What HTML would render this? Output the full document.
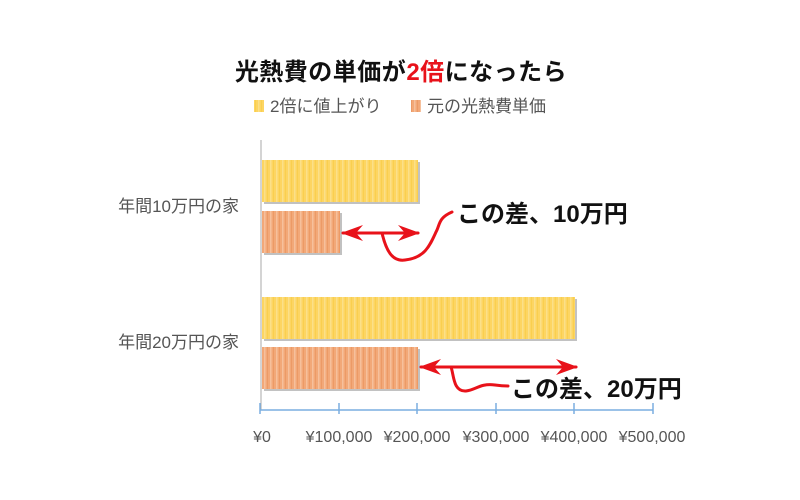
<!DOCTYPE html>
<html><head><meta charset="utf-8"><style>
html,body{margin:0;padding:0;background:#fff;}
svg{display:block;font-family:"Liberation Sans","Noto Sans CJK JP",sans-serif;}
</style></head><body>
<svg width="800" height="500" viewBox="0 0 800 500" xmlns="http://www.w3.org/2000/svg">
<defs>
<pattern id="py" width="6" height="10" patternUnits="userSpaceOnUse">
<rect width="6" height="10" fill="#fdd562"/><rect x="0" width="1.5" height="10" fill="#fbe089"/><rect x="3" width="1" height="10" fill="#f9cf4f"/>
</pattern>
<pattern id="po" width="6" height="10" patternUnits="userSpaceOnUse">
<rect width="6" height="10" fill="#f2a878"/><rect x="0" width="1.5" height="10" fill="#f6c09c"/><rect x="3" width="1" height="10" fill="#ec9a66"/>
</pattern>
<marker id="ah" markerWidth="22" markerHeight="16" refX="20" refY="8" orient="auto-start-reverse" markerUnits="userSpaceOnUse">
<path d="M0,0 L22,8 L0,16 L7,8z" fill="#e8121a"/>
</marker>
</defs>
<text x="401" y="80" text-anchor="middle" font-size="24" font-weight="bold" fill="#111" letter-spacing="0.5">光熱費の単価が<tspan fill="#e8121a">2倍</tspan>になったら</text>
<rect x="254" y="100" width="10" height="12" fill="url(#py)"/>
<text x="270" y="112" font-size="17" fill="#555">2倍に値上がり</text>
<rect x="411" y="100" width="10" height="12" fill="url(#po)"/>
<text x="427" y="112" font-size="17" fill="#555">元の光熱費単価</text>
<line x1="261" y1="140" x2="261" y2="410" stroke="#aaa" stroke-width="1"/>
<g fill="#999" opacity="0.6">
<rect x="264" y="162" width="156" height="42"/><rect x="264" y="213" width="78" height="42"/>
<rect x="264" y="299" width="313" height="42"/><rect x="264" y="349" width="156" height="42"/>
</g>
<rect x="262" y="160" width="156" height="42" fill="url(#py)"/>
<rect x="262" y="211" width="78" height="42" fill="url(#po)"/>
<rect x="262" y="297" width="313" height="42" fill="url(#py)"/>
<rect x="262" y="347" width="156" height="42" fill="url(#po)"/>
<g stroke="#7aaee0" stroke-width="1.5">
<line x1="260" y1="410" x2="653" y2="410"/>
<line x1="260" y1="403" x2="260" y2="414"/><line x1="339" y1="403" x2="339" y2="414"/>
<line x1="417" y1="403" x2="417" y2="414"/><line x1="496" y1="403" x2="496" y2="414"/>
<line x1="574" y1="403" x2="574" y2="414"/><line x1="653" y1="403" x2="653" y2="414"/>
</g>
<g font-size="16" fill="#555" text-anchor="middle">
<text x="262" y="442">¥0</text><text x="339" y="442">¥100,000</text><text x="417" y="442">¥200,000</text>
<text x="496" y="442">¥300,000</text><text x="574" y="442">¥400,000</text><text x="652" y="442">¥500,000</text>
</g>
<g font-size="17" fill="#555" text-anchor="end">
<text x="239" y="212">年間10万円の家</text><text x="239" y="348">年間20万円の家</text>
</g>
<g stroke="#e8121a" stroke-width="3" fill="none" stroke-linecap="round">
<line x1="343" y1="233" x2="418" y2="233" marker-start="url(#ah)" marker-end="url(#ah)"/>
<path d="M382,233 C386,250 392,262 405,260 C425,258 430,245 436,232 C440,225 438,218 452,212"/>
<line x1="421" y1="367" x2="576" y2="367" marker-start="url(#ah)" marker-end="url(#ah)"/>
<path d="M451,367 C454,375 453,392 466,391 C476,390 480,383 495,385 C502,386 505,386 508,386"/>
</g>
<g font-size="24" font-weight="bold" fill="#111">
<text x="457" y="222">この差、10万円</text>
<text x="511" y="397">この差、20万円</text>
</g>
</svg>
</body></html>
